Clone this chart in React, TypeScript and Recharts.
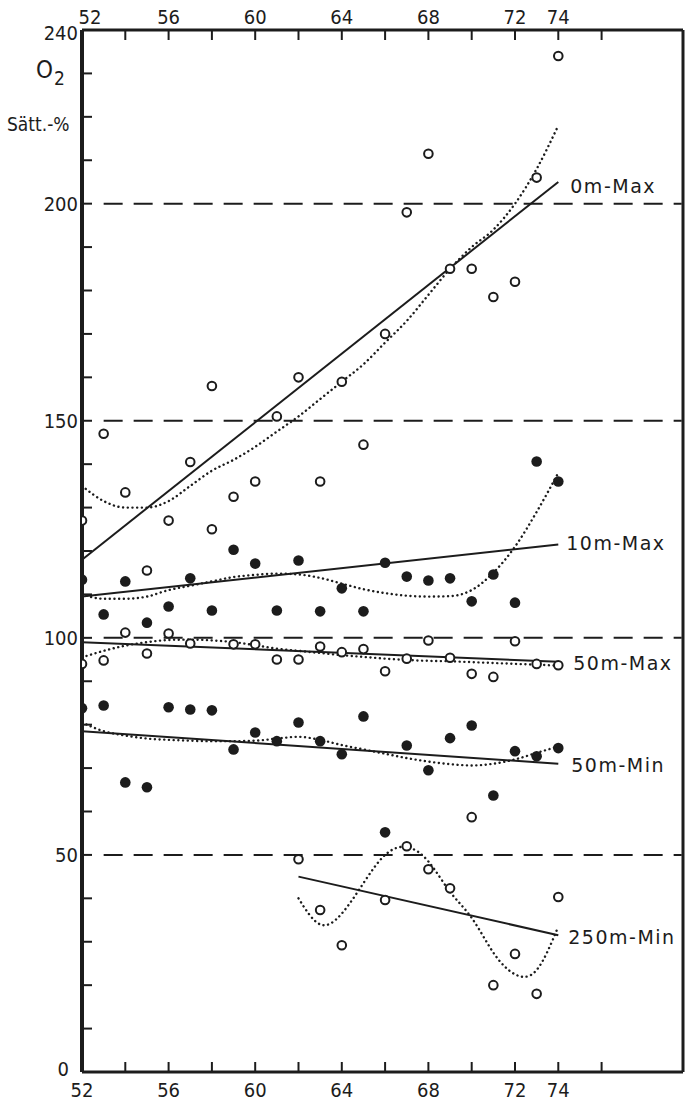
import { ComposedChart, XAxis, YAxis, Line, Scatter, ReferenceLine, LabelList } from "recharts";

// years 1952..1974 (two-digit)
const years = [52, 53, 54, 55, 56, 57, 58, 59, 60, 61, 62, 63, 64, 65, 66, 67, 68, 69, 70, 71, 72, 73, 74];

// measured points, O2 saturation %
const max0mYears = [52, 53, 54, 55, 56, 57, 58, 58, 59, 60, 61, 62, 63, 64, 65, 66, 67, 68, 69, 70, 71, 72, 73, 74];
const max0mValues = [127, 147, 133.5, 115.5, 127, 140.5, 158, 125, 132.5, 136, 151, 160, 136, 159, 144.5, 170, 198, 211.5, 185, 185, 178.5, 182, 206, 234];

const max10mValues = [113.4, 105.4, 113, 103.5, 107.2, 113.7, 106.3, 120.3, 117.1, 106.3, 117.8, 106.1, 111.4, 106.1, 117.3, 114.1, 113.2, 113.7, 108.4, 114.6, 108.1, 140.6, 136];

const max50mYears = [52, 53, 54, 55, 56, 57, 59, 60, 61, 62, 63, 64, 65, 66, 67, 68, 69, 70, 71, 72, 73, 74];
const max50mValues = [94, 94.8, 101.2, 96.4, 101, 98.7, 98.5, 98.5, 95, 95, 98, 96.7, 97.4, 92.3, 95.2, 99.4, 95.4, 91.7, 91, 99.2, 94, 93.7];

const min50mValues = [83.8, 84.4, 66.7, 65.6, 84, 83.5, 83.3, 74.3, 78.2, 76.2, 80.5, 76.2, 73.2, 81.9, 55.2, 75.2, 69.5, 76.9, 79.8, 63.7, 73.9, 72.7, 74.6];

const min250mYears = [62, 63, 64, 66, 67, 68, 69, 70, 71, 72, 73, 74];
const min250mValues = [49, 37.3, 29.2, 39.6, 52, 46.7, 42.3, 58.7, 20, 27.2, 18, 40.3];

// smoothed (dotted) curves
const smooth0mMax = [135, 131.5, 130, 130, 131.5, 135, 138.5, 141, 144, 147.5, 151, 155, 159, 163, 168, 173, 179, 185, 190, 194, 200, 208, 218];
const smooth10mMax = [110, 109, 109, 109.5, 111, 112, 113, 114, 114.5, 114.8, 114.6, 113.8, 112.5, 111.2, 110.3, 109.7, 109.5, 109.6, 111, 115, 121, 129, 138];
const smooth50mMax = [95.5, 97, 98.2, 99, 99.5, 99.6, 99.4, 99, 98.3, 97.5, 97, 96.5, 96, 95.6, 95.2, 94.9, 94.7, 94.6, 94.4, 94.2, 94, 93.8, 93.6];
const smooth50mMin = [80.5, 78.5, 77.5, 76.8, 76.5, 76.3, 76.2, 76.2, 76.3, 76.8, 77.2, 76.5, 75.3, 74.3, 73.3, 72.3, 71.5, 70.9, 70.6, 71, 72, 73.5, 75];
const smooth250Years = [62, 63, 64, 65, 66, 67, 68, 69, 70, 71, 72, 73, 74];
const smooth250mMin = [40, 34, 36.5, 43.5, 50, 51.8, 48.5, 41.5, 35.5, 27.5, 22.5, 23.5, 33.5];

// regression lines (start, end)
const fitYears = [52, 74];
const fit250Years = [62, 74];
const fit0mMax = [118, 205];
const fit10mMax = [109.5, 121.5];
const fit50mMax = [99, 94.5];
const fit50mMin = [78.5, 71];
const fit250mMin = [45, 31.5];

const seriesLabels = ["0m-Max", "10m-Max", "50m-Max", "50m-Min", "250m-Min"];

const xTicks = [52, 54, 56, 58, 60, 62, 64, 66, 68, 70, 72, 74, 76];
const xLabels = [52, 56, 60, 64, 68, 72, 74];
const yTicks = [0, 10, 20, 30, 40, 50, 60, 70, 80, 90, 100, 110, 120, 130, 140, 150, 160, 170, 180, 190, 200, 210, 220, 230, 240];
const yLabels = [0, 50, 100, 150, 200, 240];
const guideLevels = [50, 100, 150, 200];

const pts = (xs: number[], ys: number[]) => xs.map((x, i) => ({ x, y: ys[i] }));

const INK = "#1c1c1c";
const FONT = "'DejaVu Sans Condensed', 'DejaVu Sans', sans-serif";

const BottomTick = ({ x, y, payload }: any) => {
  const v = payload.value;
  return (
    <g>
      {v !== 52 && <line x1={x} x2={x} y1={y} y2={y - 10} stroke={INK} strokeWidth={2} />}
      {xLabels.includes(v) && (
        <text x={x} y={y + 25} textAnchor="middle" fontSize={20} fontFamily={FONT} fill={INK}>
          {v}
        </text>
      )}
    </g>
  );
};

const TopTick = ({ x, y, payload }: any) => {
  const v = payload.value;
  return (
    <g>
      {v !== 52 && <line x1={x} x2={x} y1={y} y2={y + 10} stroke={INK} strokeWidth={2} />}
      {xLabels.includes(v) && (
        <text x={v === 52 ? x + 8 : x} y={y - 6} textAnchor="middle" fontSize={20} fontFamily={FONT} fill={INK}>
          {v}
        </text>
      )}
    </g>
  );
};

const LeftTick = ({ x, y, payload }: any) => {
  const v = payload.value;
  const ty = v === 240 ? y + 10 : v === 0 ? y + 4 : y + 7;
  return (
    <g>
      {v > 0 && v < 240 && <line x1={x} x2={x + 10} y1={y} y2={y} stroke={INK} strokeWidth={2} />}
      {yLabels.includes(v) && (
        <text x={v === 0 ? x - 13 : x - 4} y={ty} textAnchor="end" fontSize={20} fontFamily={FONT} fill={INK}>
          {v}
        </text>
      )}
    </g>
  );
};

const OpenDot = (p: any) => <circle cx={p.cx} cy={p.cy} r={4.3} fill="#fff" stroke={INK} strokeWidth={2} />;
const FilledDot = (p: any) => <circle cx={p.cx} cy={p.cy} r={5.3} fill={INK} />;

const endLabel = (text: string, dx: number, dy: number) => (p: any) =>
  p.index === 1 ? (
    <text x={p.x + dx} y={p.y + dy} fontSize={19} letterSpacing={1.5} fontFamily="'DejaVu Sans', sans-serif" fill={INK} dominantBaseline="middle">
      {text}
    </text>
  ) : null;

const dotted = { stroke: INK, strokeWidth: 2.4, strokeDasharray: "0.1 4.6", strokeLinecap: "round" as const };

export default function App() {
  return (
    <div style={{ position: "fixed", left: 0, top: 0, width: 685, height: 1101, background: "#fff" }}>
      <ComposedChart width={685} height={1101} margin={{ top: 0, right: 0, bottom: 0, left: 0 }}>
        <XAxis xAxisId="b" type="number" dataKey="x" domain={[52, 79.76]} ticks={xTicks} height={29}
          tickSize={0} tickMargin={0} tick={<BottomTick />} axisLine={{ stroke: INK, strokeWidth: 3 }} allowDataOverflow />
        <XAxis xAxisId="t" orientation="top" type="number" dataKey="x" domain={[52, 79.76]} ticks={xTicks} height={30}
          tickSize={0} tickMargin={0} tick={<TopTick />} axisLine={{ stroke: INK, strokeWidth: 3 }} allowDataOverflow />
        <YAxis yAxisId="l" type="number" dataKey="y" domain={[0, 240]} ticks={yTicks} width={82}
          tickSize={0} tickMargin={0} tick={<LeftTick />} axisLine={{ stroke: INK, strokeWidth: 4 }} interval={0} />
        <YAxis yAxisId="r" orientation="right" type="number" domain={[0, 240]} width={2}
          tick={false} tickLine={false} axisLine={{ stroke: INK, strokeWidth: 3 }} />

        {guideLevels.map((lv) => (
          <ReferenceLine key={lv} xAxisId="b" yAxisId="l"
            segment={[{ x: 53, y: lv }, { x: 79.7, y: lv }]}
            stroke={INK} strokeWidth={2} strokeDasharray="19 11" />
        ))}

        <Line xAxisId="b" yAxisId="l" data={pts(years, smooth0mMax)} dataKey="y" type="monotone" dot={false} isAnimationActive={false} {...dotted} />
        <Line xAxisId="b" yAxisId="l" data={pts(years, smooth10mMax)} dataKey="y" type="monotone" dot={false} isAnimationActive={false} {...dotted} />
        <Line xAxisId="b" yAxisId="l" data={pts(years, smooth50mMax)} dataKey="y" type="monotone" dot={false} isAnimationActive={false} {...dotted} />
        <Line xAxisId="b" yAxisId="l" data={pts(years, smooth50mMin)} dataKey="y" type="monotone" dot={false} isAnimationActive={false} {...dotted} />
        <Line xAxisId="b" yAxisId="l" data={pts(smooth250Years, smooth250mMin)} dataKey="y" type="natural" dot={false} isAnimationActive={false} {...dotted} />

        <Line xAxisId="b" yAxisId="l" data={pts(fitYears, fit0mMax)} dataKey="y" type="linear" dot={false} stroke={INK} strokeWidth={2} isAnimationActive={false}>
          <LabelList dataKey="y" content={endLabel(seriesLabels[0], 12, 6)} />
        </Line>
        <Line xAxisId="b" yAxisId="l" data={pts(fitYears, fit10mMax)} dataKey="y" type="linear" dot={false} stroke={INK} strokeWidth={2} isAnimationActive={false}>
          <LabelList dataKey="y" content={endLabel(seriesLabels[1], 8, 0)} />
        </Line>
        <Line xAxisId="b" yAxisId="l" data={pts(fitYears, fit50mMax)} dataKey="y" type="linear" dot={false} stroke={INK} strokeWidth={2} isAnimationActive={false}>
          <LabelList dataKey="y" content={endLabel(seriesLabels[2], 15, 3)} />
        </Line>
        <Line xAxisId="b" yAxisId="l" data={pts(fitYears, fit50mMin)} dataKey="y" type="linear" dot={false} stroke={INK} strokeWidth={2} isAnimationActive={false}>
          <LabelList dataKey="y" content={endLabel(seriesLabels[3], 13, 3)} />
        </Line>
        <Line xAxisId="b" yAxisId="l" data={pts(fit250Years, fit250mMin)} dataKey="y" type="linear" dot={false} stroke={INK} strokeWidth={2} isAnimationActive={false}>
          <LabelList dataKey="y" content={endLabel(seriesLabels[4], 10, 3)} />
        </Line>

        <Scatter xAxisId="b" yAxisId="l" data={pts(max0mYears, max0mValues)} shape={OpenDot} isAnimationActive={false} />
        <Scatter xAxisId="b" yAxisId="l" data={pts(years, max10mValues)} shape={FilledDot} isAnimationActive={false} />
        <Scatter xAxisId="b" yAxisId="l" data={pts(max50mYears, max50mValues)} shape={OpenDot} isAnimationActive={false} />
        <Scatter xAxisId="b" yAxisId="l" data={pts(years, min50mValues)} shape={FilledDot} isAnimationActive={false} />
        <Scatter xAxisId="b" yAxisId="l" data={pts(min250mYears, min250mValues)} shape={OpenDot} isAnimationActive={false} />
      </ComposedChart>

      <div style={{ position: "absolute", left: 36, top: 58, fontFamily: FONT, fontSize: 24, color: INK, lineHeight: 1 }}>
        O<span style={{ fontSize: 19, position: "relative", top: 7, marginLeft: 1 }}>2</span>
      </div>
      <div style={{ position: "absolute", left: 7, top: 115, fontFamily: FONT, fontSize: 19, color: INK, lineHeight: 1 }}>
        Sätt.-%
      </div>
    </div>
  );
}
